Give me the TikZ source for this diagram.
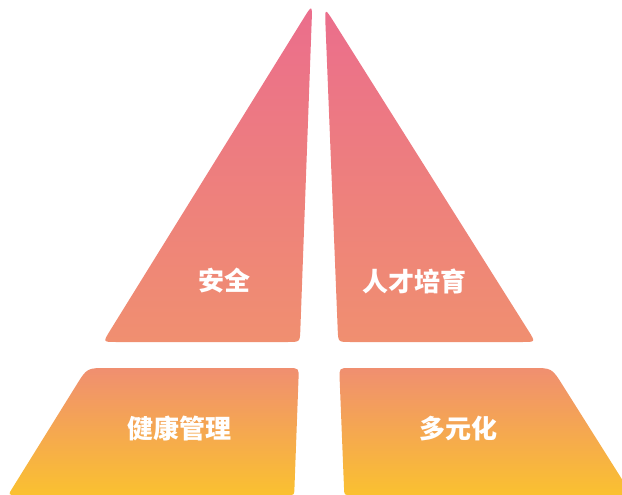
\documentclass[tikz,border=0pt]{standalone}
\usepackage{fontspec}
\newfontfamily\cjk{Noto Sans CJK SC}
\usetikzlibrary{calc}
\definecolor{cPink}{RGB}{235,110,140}
\definecolor{cOrange}{RGB}{240,143,112}
\definecolor{cYellow}{RGB}{250,193,48}
\pgfdeclareverticalshading{pyr}{100bp}{color(0bp)=(cYellow); color(25bp)=(cYellow); color(37.8bp)=(cOrange); color(40.5bp)=(cOrange); color(74bp)=(cPink); color(100bp)=(cPink)}
\tikzset{
  lbl/.style={text=white, inner sep=0pt, font=\cjk\bfseries\fontsize{26}{26}\selectfont}
}
\begin{document}
\begin{tikzpicture}[x=1pt,y=-1pt]
\useasboundingbox (0,0) rectangle (622,495);
% left triangle
\coordinate (A) at (312.3,4.3);
\coordinate (B) at (103,342);
\coordinate (C) at (299.9,342);
% right triangle
\coordinate (D) at (324.8,7.6);
\coordinate (E) at (338.2,342);
\coordinate (F) at (535.5,342);
% left trapezoid
\coordinate (G) at (87,368);
\coordinate (H) at (298.9,368);
\coordinate (I) at (294.2,495);
\coordinate (J) at (8.1,495);
% right trapezoid
\coordinate (K) at (339.2,368);
\coordinate (L) at (551.8,368);
\coordinate (M) at (631.9,495);
\coordinate (N) at (344.3,495);
\begin{scope}
\clip
  % left triangle
  ($(A)!18pt!(B)$) -- ($(B)!13pt!(A)$) .. controls (B) .. ($(B)!13pt!(C)$)
  -- ($(C)!12pt!(B)$) .. controls (C) .. ($(C)!12pt!(A)$)
  -- ($(A)!18pt!(C)$) .. controls (A) .. ($(A)!18pt!(B)$) -- cycle
  % right triangle
  ($(D)!18pt!(E)$) -- ($(E)!12pt!(D)$) .. controls (E) .. ($(E)!12pt!(F)$)
  -- ($(F)!13pt!(E)$) .. controls (F) .. ($(F)!13pt!(D)$)
  -- ($(D)!18pt!(F)$) .. controls (D) .. ($(D)!18pt!(E)$) -- cycle
  % left trapezoid
  ($(G)!20pt!(H)$) -- ($(H)!11pt!(G)$) .. controls (H) .. ($(H)!11pt!(I)$)
  -- ($(I)!6pt!(H)$) .. controls (I) .. ($(I)!6pt!(J)$)
  -- ($(J)!8pt!(I)$) .. controls (J) .. ($(J)!8pt!(G)$)
  -- ($(G)!20pt!(J)$) .. controls (G) .. ($(G)!20pt!(H)$) -- cycle
  % right trapezoid
  ($(K)!11pt!(L)$) -- ($(L)!20pt!(K)$) .. controls (L) .. ($(L)!20pt!(M)$)
  -- (M) -- ($(N)!6pt!(M)$) .. controls (N) .. ($(N)!6pt!(K)$)
  -- ($(K)!11pt!(N)$) .. controls (K) .. ($(K)!11pt!(L)$) -- cycle;
\shade[shading=pyr] (0,0) rectangle (622,495);
\end{scope}
\node[lbl] (safe) at (224,281) {安全};
\node[lbl] (talent) at (414.5,281) {人才培育};
\node[lbl] (health) at (179.5,429) {健康管理};
\node[lbl] (diverse) at (458,429) {多元化};
\end{tikzpicture}
\end{document}
